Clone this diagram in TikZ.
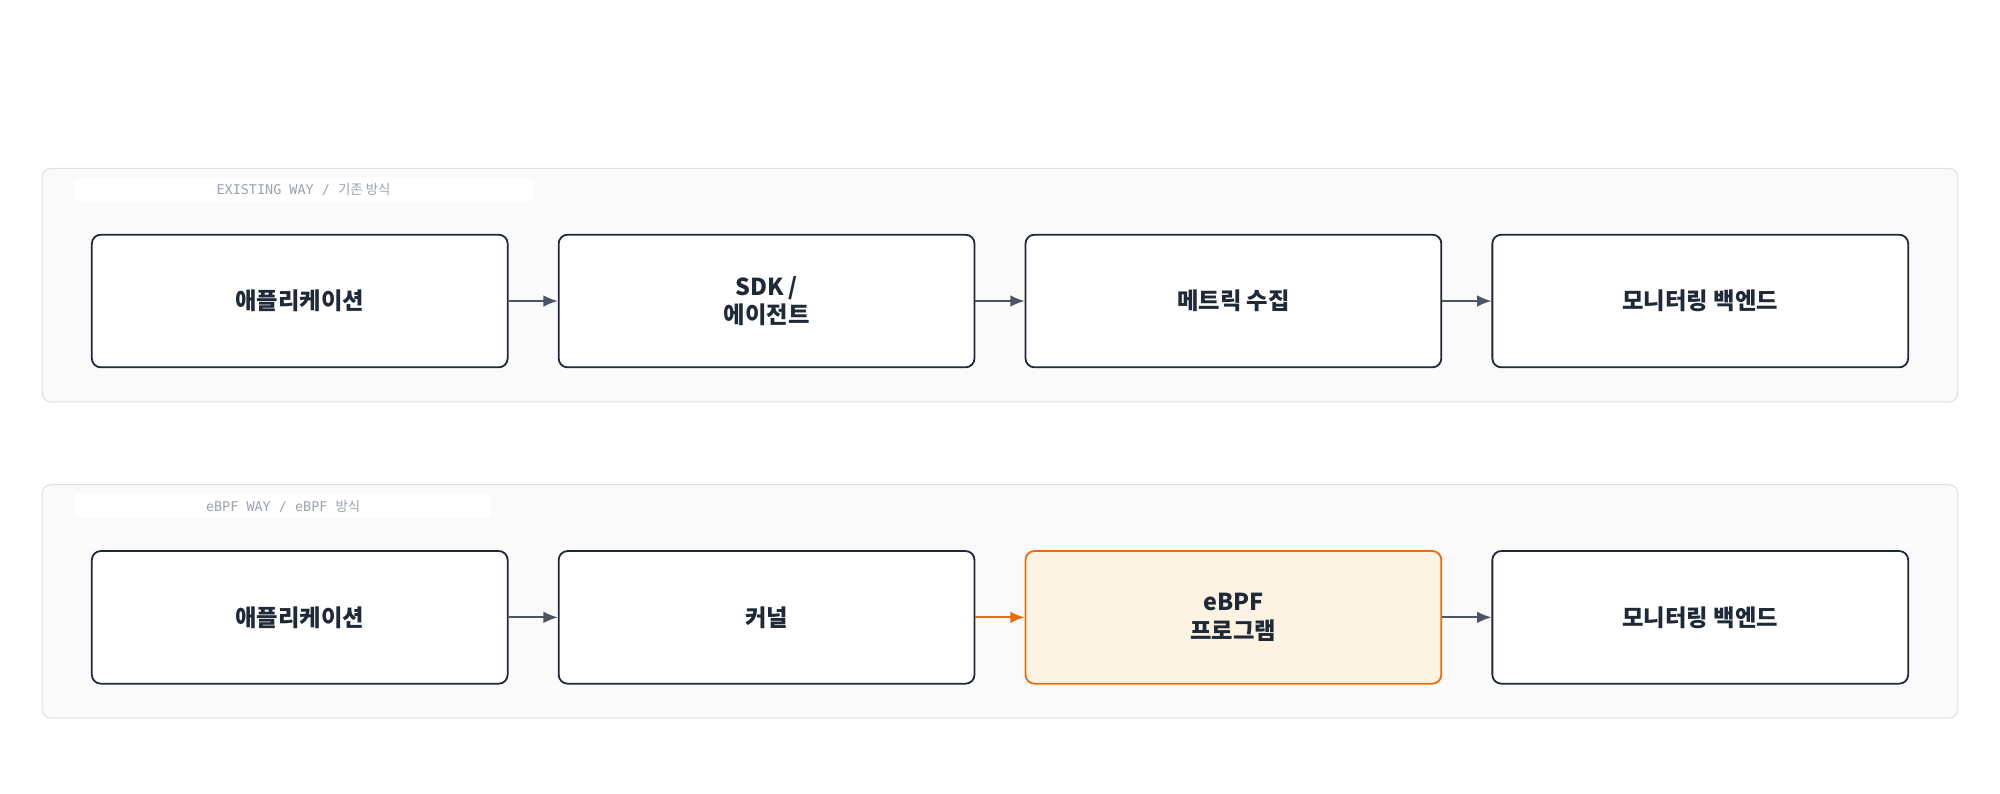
\documentclass[tikz,border=0pt]{standalone}
\usepackage{fontspec}
\setmainfont{Noto Sans CJK KR}
\newfontfamily\kr{Noto Sans CJK KR}
\newfontfamily\mono{DejaVu Sans Mono}
\usetikzlibrary{arrows.meta}
\definecolor{dark}{HTML}{1F2937}
\definecolor{arr}{HTML}{4B5563}
\definecolor{org}{HTML}{EA6C0A}
\definecolor{orgfill}{HTML}{FDF3E3}
\definecolor{panel}{HTML}{FAFAFA}
\definecolor{pborder}{HTML}{E0E0E0}
\definecolor{lbl}{HTML}{9CA3AF}
\begin{document}
\begin{tikzpicture}[x=0.05cm,y=-0.05cm,
 panel/.style={draw=pborder,fill=panel,rounded corners=10pt,line width=1.2pt},
 lab/.style={fill=white,draw=none,rounded corners=2pt},
 box/.style={draw=dark,fill=white,rounded corners=10pt,line width=2pt,minimum width=326*0.05cm,minimum height=104*0.05cm,align=center,font=\kr\bfseries\fontsize{26}{32}\selectfont,text=dark},
 hl/.style={box,draw=org,fill=orgfill},
 ar/.style={-{Latex[length=16pt,width=13pt]},line width=2pt,draw=arr},
 lt/.style={text=lbl,font=\fontsize{15}{18}\selectfont}]
\useasboundingbox (0,0) rectangle (1568,622);
\fill[white] (0,0) rectangle (1568,622);
\draw[panel] (33,132) rectangle (1535,315);
\fill[lab] (59,139) rectangle (418,158);
\node[lt] (l1) at (238,149) {{\mono EXISTING WAY / }{\kr 기존 방식}};
\draw[panel] (33,380) rectangle (1535,563);
\fill[lab] (59,387) rectangle (385,406);
\node[lt] (l2) at (222,397) {{\mono eBPF WAY / eBPF }{\kr 방식}};
\node[box] (a1) at (235,236) {애플리케이션};
\node[box] (a2) at (601,236) {SDK /\\에이전트};
\node[box] (a3) at (967,236) {메트릭 수집};
\node[box] (a4) at (1333,236) {모니터링 백엔드};
\node[box] (b1) at (235,484) {애플리케이션};
\node[box] (b2) at (601,484) {커널};
\node[hl] (b3) at (967,484) {eBPF\\프로그램};
\node[box] (b4) at (1333,484) {모니터링 백엔드};
\draw[ar] (a1) -- (a2); \draw[ar] (a2) -- (a3); \draw[ar] (a3) -- (a4);
\draw[ar] (b1) -- (b2); \draw[ar,draw=org] (b2) -- (b3); \draw[ar] (b3) -- (b4);
\end{tikzpicture}
\end{document}
